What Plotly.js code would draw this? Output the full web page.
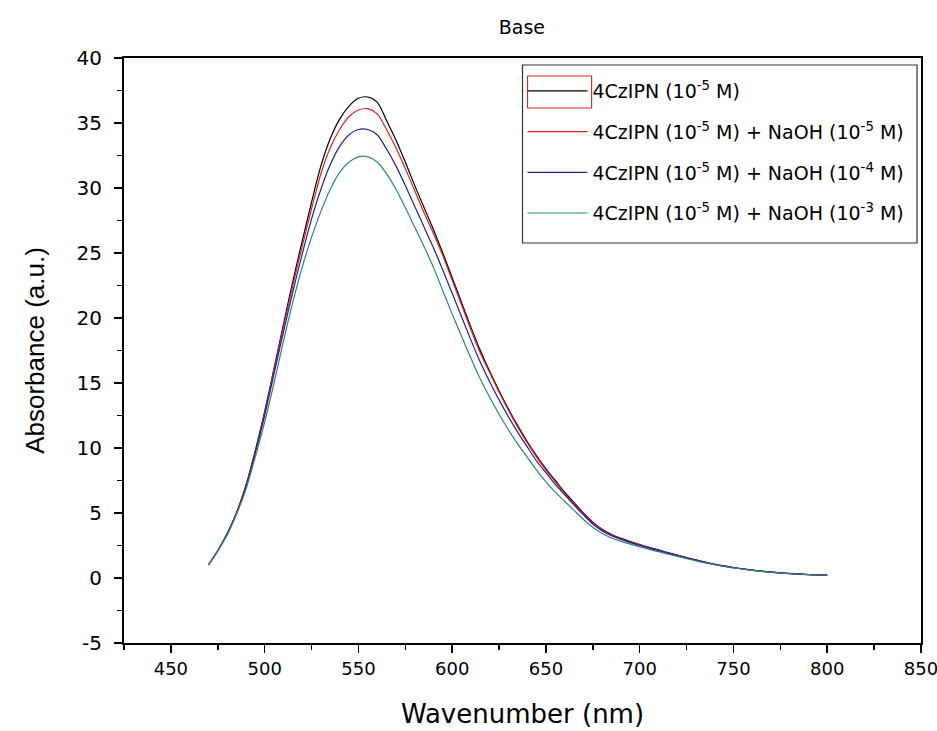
<!DOCTYPE html>
<html>
<head>
<meta charset="utf-8">
<script src="https://cdn.plot.ly/plotly-3.0.1.min.js"></script>
<style>html,body{margin:0;padding:0;background:#fff;}#chart{width:937px;height:731px;}</style>
</head>
<body>
<div id="chart"></div>
<script>
var wavelength = [470,475,480,485,490,495,500,505,510,515,520,525,530,535,540,545,550,555,560,565,570,575,580,585,590,595,600,605,610,615,620,625,630,635,640,645,650,655,660,665,670,675,680,685,690,695,700,705,710,715,720,725,730,735,740,745,750,755,760,765,770,775,780,785,790,795,800];

var czipn = [1.0,2.1,3.4,5.0,7.1,9.8,12.8,16.1,19.5,22.8,25.9,28.9,31.7,33.8,35.3,36.3,36.9,37.0,36.6,35.2,33.7,32.0,30.2,28.5,26.8,25.0,23.1,21.2,19.3,17.5,15.9,14.4,13.0,11.7,10.5,9.4,8.4,7.5,6.6,5.8,5.0,4.3,3.75,3.35,3.05,2.8,2.57,2.36,2.16,1.96,1.76,1.57,1.39,1.22,1.06,0.93,0.81,0.7,0.61,0.53,0.46,0.4,0.35,0.31,0.27,0.24,0.22];

var naoh5 = [1.0,2.1,3.4,5.0,7.1,9.7,12.7,16.0,19.3,22.5,25.5,28.4,31.1,33.1,34.5,35.5,36.0,36.1,35.7,34.5,33.1,31.5,29.8,28.1,26.5,24.8,22.9,21.0,19.1,17.3,15.8,14.3,12.9,11.6,10.4,9.3,8.3,7.4,6.5,5.7,4.95,4.25,3.7,3.3,3.0,2.76,2.54,2.33,2.13,1.93,1.74,1.55,1.37,1.2,1.05,0.92,0.8,0.69,0.6,0.52,0.45,0.39,0.34,0.3,0.26,0.23,0.21];

var naoh4 = [1.0,2.1,3.4,5.0,7.0,9.6,12.5,15.7,18.9,22.0,24.9,27.6,29.9,31.8,33.2,34.1,34.5,34.5,34.1,33.0,31.7,30.2,28.6,27.0,25.4,23.7,21.9,20.1,18.3,16.6,15.1,13.7,12.4,11.2,10.1,9.0,8.1,7.2,6.4,5.6,4.85,4.15,3.62,3.25,2.96,2.72,2.5,2.3,2.1,1.91,1.72,1.54,1.36,1.19,1.04,0.91,0.79,0.69,0.6,0.52,0.45,0.39,0.34,0.3,0.26,0.23,0.21];

var naoh3 = [1.0,2.1,3.3,4.9,6.8,9.3,12.0,15.0,18.2,21.2,23.9,26.2,28.2,29.9,31.2,32.0,32.4,32.4,32.0,31.1,29.9,28.5,27.0,25.5,23.9,22.1,20.3,18.6,16.9,15.3,13.9,12.6,11.4,10.3,9.3,8.3,7.4,6.6,5.9,5.2,4.5,3.9,3.42,3.08,2.82,2.6,2.4,2.2,2.02,1.84,1.66,1.49,1.32,1.16,1.02,0.89,0.78,0.68,0.59,0.51,0.44,0.38,0.33,0.29,0.26,0.23,0.21];

var seriesNames = [
  "4CzIPN (10<sup>-5</sup> M)",
  "4CzIPN (10<sup>-5</sup> M) + NaOH (10<sup>-5</sup> M)",
  "4CzIPN (10<sup>-5</sup> M) + NaOH (10<sup>-4</sup> M)",
  "4CzIPN (10<sup>-5</sup> M) + NaOH (10<sup>-3</sup> M)"
];
var seriesValues = [czipn, naoh5, naoh4, naoh3];
var seriesColors = ["#000000", "#e02020", "#202098", "#2a8585"];

var yTickVals = [-5,0,5,10,15,20,25,30,35,40];
var yTickText = ["-5","0","5","10","15","20","25","30","35","40"];
var xTickVals = [450,500,550,600,650,700,750,800,850];

var traces = seriesValues.map(function(v, i){
  return {
    x: wavelength, y: v, type: "scatter", mode: "lines",
    name: seriesNames[i], legendgroup: "g" + i,
    line: {color: seriesColors[i], width: 1.2, shape: "spline", smoothing: 0.8}
  };
});

var fontFam = "'DejaVu Sans', sans-serif";
var arialFam = "Arial, 'Liberation Sans', sans-serif";
var layout = {
  width: 937, height: 731,
  paper_bgcolor: "#ffffff", plot_bgcolor: "#ffffff",
  margin: {l: 124, r: 16, t: 58, b: 88},
  font: {family: fontFam, color: "#000"},
  title: {text: "Base", font: {size: 19, family: fontFam, color: "#000"}, x: 0.557, xanchor: "center", y: 0.962, yanchor: "middle"},
  showlegend: true,
  legend: {
    x: 0.5, xanchor: "left", y: 0.976, yanchor: "top",
    bgcolor: "rgba(0,0,0,0)", borderwidth: 0,
    font: {size: 19, family: fontFam, color: "#000"},
    traceorder: "grouped", tracegroupgap: 13, itemwidth: 60
  },
  shapes: [
    {type: "rect", xref: "paper", yref: "paper", x0: 0.5, x1: 0.995, y0: 0.6838, y1: 0.988,
     line: {color: "#333", width: 1.2}, fillcolor: "rgba(0,0,0,0)", layer: "above"},
    {type: "rect", xref: "paper", yref: "paper", x0: 0.5063, x1: 0.5867, y0: 0.9145, y1: 0.9692,
     line: {color: "#d03030", width: 1.2}, fillcolor: "rgba(0,0,0,0)", layer: "above"}
  ],
  xaxis: {
    range: [425, 850], showgrid: false, zeroline: false,
    showline: true, linecolor: "#000", linewidth: 2, mirror: true,
    ticks: "outside", ticklen: 8, tickwidth: 1.5, tickcolor: "#000",
    tickvals: xTickVals, ticktext: xTickVals.map(String),
    ticklabeloverflow: "allow",
    tickfont: {size: 18, family: fontFam, color: "#000"},
    minor: {dtick: 25, ticks: "outside", ticklen: 5, tickwidth: 1.5, tickcolor: "#000", showgrid: false},
    title: {text: "Wavenumber (nm)", font: {size: 26, family: fontFam, color: "#000"}, standoff: 27}
  },
  yaxis: {
    range: [-5, 40], showgrid: false, zeroline: false,
    showline: true, linecolor: "#000", linewidth: 2, mirror: true,
    ticks: "outside", ticklen: 8, tickwidth: 1.5, tickcolor: "#000",
    tickvals: yTickVals, ticktext: yTickText,
    ticklabelstandoff: 8,
    tickfont: {size: 20, family: fontFam, color: "#000"},
    minor: {dtick: 2.5, ticks: "outside", ticklen: 5, tickwidth: 1.5, tickcolor: "#000", showgrid: false},
    title: {text: "Absorbance (a.u.)", font: {size: 26, family: arialFam, color: "#000"}, standoff: 24}
  }
};

Plotly.newPlot("chart", traces, layout, {displayModeBar: false, staticPlot: true});
</script>
</body>
</html>
